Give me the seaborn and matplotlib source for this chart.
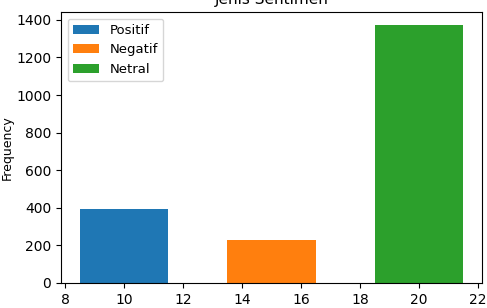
import matplotlib
matplotlib.use("Agg")
import matplotlib.pyplot as plt
import seaborn as sns
import pandas as pd

# jumlah tweet per jenis sentimen
labels = ["Positif", "Negatif", "Netral"]
posisi = [10, 15, 20]
frekuensi = [396, 228, 1373]
warna = ["#1f77b4", "#ff7f0e", "#2ca02c"]

df = pd.DataFrame({"posisi": posisi, "frekuensi": frekuensi, "label": labels})

plt.rcParams["font.size"] = 10
plt.rcParams["font.family"] = ["DejaVu Sans"]

fig = plt.figure(figsize=(4.87, 3.08), dpi=100)
ax = fig.add_axes([61 / 487, 25 / 308, 421 / 487, 271 / 308])

sns.barplot(data=df, x="posisi", y="frekuensi", hue="label", palette=warna,
            native_scale=True, width=0.6, dodge=False, saturation=1, ax=ax)

ax.set_xlim(7.85, 22.15)
ax.set_ylim(0, 1442)
ax.set_xlabel("")
ax.set_ylabel("Frequency", fontsize=9)
ax.yaxis.set_label_coords(-0.112, 0.5)
ax.set_title("Jenis Sentimen", fontsize=11)
ax.legend(loc="upper left", fontsize=9.5)

fig.savefig("out.png", dpi=100)
